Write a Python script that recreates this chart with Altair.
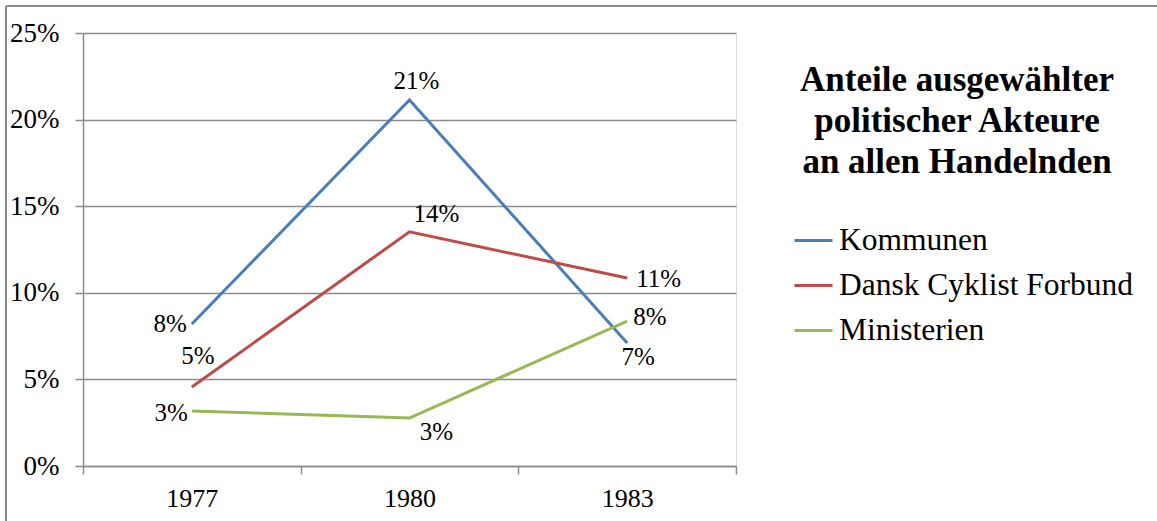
import altair as alt
import pandas as pd

years = ["1977", "1980", "1983"]
series_names = ["Kommunen", "Dansk Cyklist Forbund", "Ministerien"]
kommunen = [0.082, 0.2113, 0.071]
dansk = [0.0456, 0.1352, 0.1085]
ministerien = [0.0318, 0.0277, 0.0837]
colors = ["#4A7EBB", "#BE4B48", "#98B954"]
y_ticks = [0, 0.05, 0.10, 0.15, 0.20, 0.25]
title_lines = "Anteile ausgewählter\npolitischer Akteure\nan allen Handelnden"

rows = []
for name, vals in zip(series_names, [kommunen, dansk, ministerien]):
    for yr, v in zip(years, vals):
        rows.append({"Jahr": yr, "Serie": name, "Wert": v})
df = pd.DataFrame(rows)

FONT = "'Times New Roman', 'Liberation Serif', serif"
W, H = 653, 433
LEFT, TOP = 83, 33

x_enc = alt.X("Jahr:N", sort=years,
              scale=alt.Scale(type="band", paddingInner=0, paddingOuter=0),
              axis=alt.Axis(title=None, labelAngle=0, tickBand="extent", grid=False,
                            domainColor="#8c8c8c", tickColor="#8c8c8c", tickSize=8,
                            labelFont=FONT, labelFontSize=26, labelColor="#000",
                            labelPadding=11, domainWidth=1.5, tickWidth=1.5))
y_enc = alt.Y("Wert:Q",
              scale=alt.Scale(domain=[0, 0.25], nice=False),
              axis=alt.Axis(title=None, format=".0%", values=y_ticks, grid=True,
                            gridColor="#8c8c8c", gridWidth=1.5, domainColor="#8c8c8c",
                            domainWidth=1.5, tickColor="#8c8c8c", tickWidth=1.5, tickSize=8,
                            labelFont=FONT, labelFontSize=27, labelColor="#000",
                            labelPadding=16))

base = alt.Chart(df)

lines = base.mark_line(strokeWidth=3).encode(
    x=x_enc, y=y_enc,
    color=alt.Color("Serie:N", sort=series_names,
                    scale=alt.Scale(domain=series_names, range=colors),
                    legend=alt.Legend(title=None, orient="none", legendX=710, legendY=187,
                                      symbolType="stroke", symbolSize=1444,
                                      symbolStrokeWidth=3, labelFont=FONT,
                                      labelFontSize=31.5, labelColor="#000",
                                      labelOffset=5, rowPadding=9, labelLimit=400)),
)

label_specs = [
    ("Kommunen", "1977", -5, 0, "right"),
    ("Kommunen", "1980", 7, -19, "center"),
    ("Kommunen", "1983", 11, 14, "center"),
    ("Dansk Cyklist Forbund", "1977", 6, -31, "center"),
    ("Dansk Cyklist Forbund", "1980", 27, -18, "center"),
    ("Dansk Cyklist Forbund", "1983", 9, 1, "left"),
    ("Ministerien", "1977", -4, 2, "right"),
    ("Ministerien", "1980", 27, 14, "center"),
    ("Ministerien", "1983", 6, -4, "left"),
]
label_layers = []
for s, yr, dx, dy, al in label_specs:
    label_layers.append(
        base.transform_filter((alt.datum.Serie == s) & (alt.datum.Jahr == yr))
        .mark_text(font=FONT, fontSize=25, color="#000", dx=dx, dy=dy, align=al,
                   baseline="middle")
        .encode(x=alt.X("Jahr:N", sort=years), y=alt.Y("Wert:Q"),
                text=alt.Text("Wert:Q", format=".0%"))
    )

title_df = pd.DataFrame({"t": [title_lines]})
title = alt.Chart(title_df).mark_text(
    font=FONT, fontSize=35, fontWeight="bold", color="#000", align="center",
    baseline="top", lineBreak="\n", lineHeight=41
).encode(text="t:N", x=alt.value(957 - LEFT), y=alt.value(63 - TOP))

border_df = pd.DataFrame({"k": [1]})
border_top = alt.Chart(border_df).mark_rule(color="#8c8c8c", strokeWidth=2).encode(
    x=alt.value(6 - LEFT), x2=alt.value(1157 - LEFT), y=alt.value(6 - TOP))
border_left = alt.Chart(border_df).mark_rule(color="#8c8c8c", strokeWidth=2).encode(
    x=alt.value(6 - LEFT), y=alt.value(6 - TOP), y2=alt.value(521 - TOP))

chart = alt.layer(lines, *label_layers, title, border_top, border_left).properties(
    width=W, height=H,
    autosize=alt.AutoSizeParams(type="none"),
    padding={"left": LEFT, "top": TOP, "right": 1157 - LEFT - W, "bottom": 521 - TOP - H},
).configure_view(stroke=None).configure(background="white")

chart.save("out.html", embed_options={"renderer": "svg", "actions": False})
